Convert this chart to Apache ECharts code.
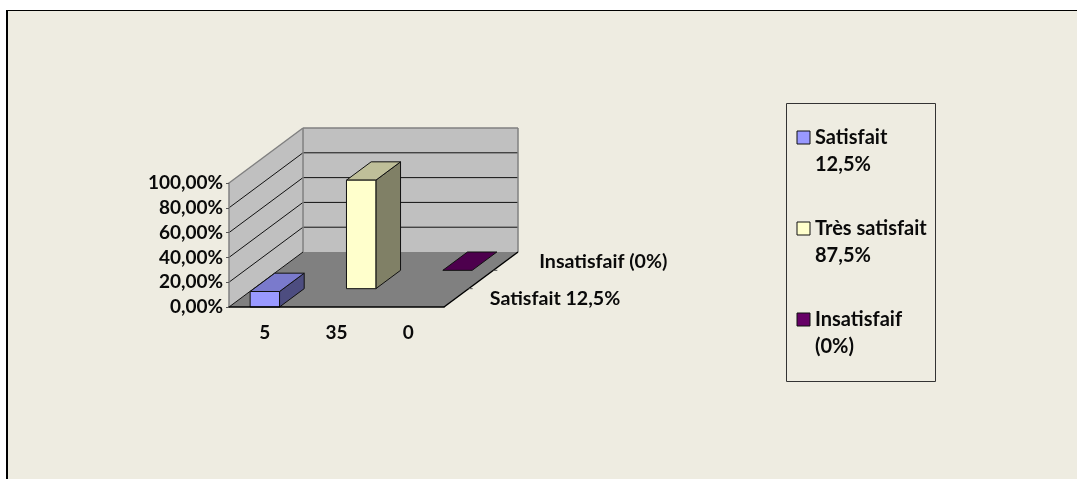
<!DOCTYPE html>
<html><head><meta charset="utf-8">
<style>
html,body{margin:0;padding:0;background:#fff;width:1077px;height:479px;overflow:hidden}
#paper{position:absolute;left:6px;top:10px;right:0;bottom:0;background:#EEECE1;border-left:2px solid #000;border-top:1px solid #000}
#chart{position:absolute;left:0;top:0;width:1077px;height:479px}
</style>
<script src="https://cdn.jsdelivr.net/npm/echarts@6/dist/echarts.min.js"></script>
</head><body><div id="paper"></div><div id="chart"></div>
<script>
const categories = ['5', '35', '0'];
const seriesNames = ['Satisfait 12,5%', 'Très satisfait 87,5%', 'Insatisfaif (0%)'];
const satisfaitValues = [12.5, null, null];
const tresSatisfaitValues = [null, 87.5, null];
const insatisfaifValues = [null, null, 0];
const yTicks = [0, 20, 40, 60, 80, 100];
const depthLabelRows = [0, 2];

const FONT = 'Lato';
const INK = '#0a0a0a';
const DEPTH_X = 24.67, DEPTH_Y = -18.33, ROWS = 3, BAR_FRACTION = 0.41;
const palette = [
  {front:'#9999FF', top:'#7A7ACC', side:'#4D4D80'},
  {front:'#FFFFCC', top:'#BFBF99', side:'#808066'},
  {front:'#660066', top:'#4D004D', side:'#330033'}
];

function poly(points, fill, stroke, lw){
  return {type:'polygon', shape:{points}, style:{fill, stroke: stroke||null, lineWidth: lw||0}, silent:true};
}
function seg(a, b, stroke, lw){
  return {type:'line', shape:{x1:a[0],y1:a[1],x2:b[0],y2:b[1]}, style:{stroke, lineWidth:lw}, silent:true};
}

function renderWalls(params, api){
  const cs = params.coordSys;
  const L = cs.x, R = cs.x + cs.width;
  const y0 = api.coord([0, yTicks[0]])[1];
  const yT = api.coord([0, yTicks[yTicks.length-1]])[1];
  const dx = DEPTH_X*ROWS, dy = DEPTH_Y*ROWS;
  const kids = [
    poly([[L,y0],[L,yT],[L+dx,yT+dy],[L+dx,y0+dy]], '#C0C0C0'),
    poly([[L+dx,y0+dy],[L+dx,yT+dy],[R+dx,yT+dy],[R+dx,y0+dy]], '#C0C0C0'),
    poly([[L,y0],[L+dx,y0+dy],[R+dx,y0+dy],[R,y0]], '#808080')
  ];
  yTicks.slice(1, -1).forEach(function(t){
    const y = api.coord([0, t])[1];
    kids.push(seg([L,y],[L+dx,y+dy],'#111',1));
    kids.push(seg([L+dx,y+dy],[R+dx,y+dy],'#111',1));
  });
  kids.push(seg([L,yT],[L+dx,yT+dy],'#808080',1.5));
  kids.push(seg([L+dx,yT+dy],[R+dx,yT+dy],'#808080',1.5));
  kids.push(seg([R+dx,yT+dy],[R+dx,y0+dy],'#808080',1.5));
  kids.push(seg([L+dx,yT+dy],[L+dx,y0+dy],'#808080',1.5));
  kids.push(seg([L,y0],[L+dx,y0+dy],'#111',1));
  // depth axis
  kids.push(seg([R,y0],[R+dx,y0+dy],'#000',1.5));
  for(let r=1;r<ROWS;r++){
    const p=[R+DEPTH_X*r,y0+DEPTH_Y*r];
    kids.push(seg(p,[p[0]+4,p[1]],'#555',1));
  }
  depthLabelRows.forEach(function(r){
    kids.push({type:'text', silent:true, style:{
      text: seriesNames[r],
      x: R+DEPTH_X*(r+0.5)+33.5, y: y0+DEPTH_Y*(r+0.5)+0.5,
      align:'left', verticalAlign:'middle',
      font:'bold 19.6px '+FONT, fill:INK
    }});
  });
  return {type:'group', children:kids};
}

function barRenderer(row){
  return function(params, api){
    const cat = api.value(0), v = api.value(1);
    const base = api.coord([cat, 0]), tip = api.coord([cat, v]);
    const w = api.size([1,0])[0]*BAR_FRACTION;
    const sx = DEPTH_X*row, sy = DEPTH_Y*row;
    const l = base[0]-w/2+sx, r = base[0]+w/2+sx, b = base[1]+sy, t = tip[1]+sy;
    const c = palette[row], S='#111';
    const kids=[];
    if(b-t>0.01){
      kids.push(poly([[r,b],[r,t],[r+DEPTH_X,t+DEPTH_Y],[r+DEPTH_X,b+DEPTH_Y]], c.side, S, 1));
    }
    kids.push(poly([[l,t],[l+DEPTH_X,t+DEPTH_Y],[r+DEPTH_X,t+DEPTH_Y],[r,t]], c.top, S, 1));
    if(b-t>0.01){
      kids.push(poly([[l,b],[l,t],[r,t],[r,b]], c.front, S, 1));
    }
    return {type:'group', children:kids};
  };
}

function toPoints(values){
  return values.map(function(v,i){return v===null?null:[i,v];}).filter(Boolean);
}
const seriesValues=[satisfaitValues,tresSatisfaitValues,insatisfaifValues];
const barSeries = seriesNames.map(function(name,row){
  return {type:'custom', name, coordinateSystem:'cartesian2d', z:3, clip:false,
    renderItem:barRenderer(row), data:toPoints(seriesValues[row]), encode:{x:0,y:1},
    itemStyle:{color:palette[row].front}};
});

const chart = echarts.init(document.getElementById('chart'), null, {renderer:'canvas'});
chart.setOption({
  animation:false,
  backgroundColor:'transparent',
  textStyle:{fontFamily:FONT},
  grid:{left:229, top:183, width:215, height:124, containLabel:false},
  xAxis:{type:'category', data:categories, z:5,
    axisLine:{lineStyle:{color:'#000',width:1.5}},
    axisTick:{length:4, alignWithLabel:false, lineStyle:{color:'#777',width:1}},
    axisLabel:{margin:16, interval:0, fontFamily:FONT, fontWeight:'bold', fontSize:19, color:INK}
  },
  yAxis:{type:'value', min:0, max:100, interval:20, z:5,
    splitLine:{show:false},
    axisLine:{show:true, lineStyle:{color:'#808080',width:1.5}},
    axisTick:{show:true, length:3, lineStyle:{color:'#555',width:1}},
    axisLabel:{margin:6, padding:[2,0,0,0], fontFamily:FONT, fontWeight:'bold', fontSize:19, color:INK,
      formatter:function(v){return v.toFixed(2).replace('.',',')+'%';}}
  },
  legend:{
    orient:'vertical', left:796.5, top:97, padding:0, itemGap:10, itemWidth:13, itemHeight:13, itemStyle:{borderColor:'#111',borderWidth:1},
    selectedMode:false, icon:'rect', data:seriesNames,
    textStyle:{fontFamily:FONT, fontWeight:'bold', fontSize:20, color:INK, lineHeight:27},
    formatter:function(n){const i=n.lastIndexOf(' ');return '\n'+n.slice(0,i)+'\n'+n.slice(i+1);}
  },
  graphic:[{type:'rect', z:-1, silent:true, shape:{x:786.5,y:103.5,width:149,height:278}, style:{fill:'transparent',stroke:'#333',lineWidth:1}}],
  series:[{type:'custom', name:'walls', coordinateSystem:'cartesian2d', z:1, clip:false,
    renderItem:renderWalls, data:[[0,0]], encode:{x:0,y:1}, silent:true}].concat(barSeries)
});
</script></body></html>
